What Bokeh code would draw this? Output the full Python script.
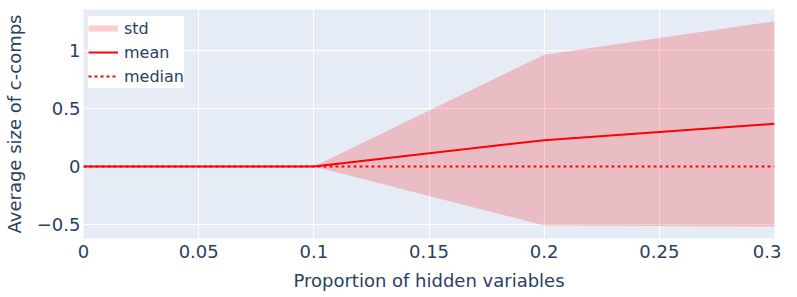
from bokeh.plotting import figure
from bokeh.models import FixedTicker, Legend, LegendItem, Range1d
from bokeh.embed import file_html
from bokeh.resources import INLINE

# ---- data ----
x_vals = [0.0, 0.1, 0.2, 0.3]
mean_vals = [0.0, 0.0, 0.227, 0.368]
std_vals = [0.0, 0.0, 0.736, 0.885]
median_vals = [0.0, 0.0, 0.0, 0.0]

x_ticks = [0, 0.05, 0.1, 0.15, 0.2, 0.25, 0.3]
x_tick_labels = ["0", "0.05", "0.1", "0.15", "0.2", "0.25", "0.3"]
y_ticks = [-0.5, 0, 0.5, 1]
y_tick_labels = ["\u22120.5", "0", "0.5", "1"]

upper_vals = [m + s for m, s in zip(mean_vals, std_vals)]
lower_vals = [m - s for m, s in zip(mean_vals, std_vals)]

FONT = "DejaVu Sans"
TXT = "#2a3f5f"

p = figure(width=781, height=297, output_backend="svg",
           toolbar_location=None,
           x_range=Range1d(0, 0.3), y_range=Range1d(-0.6207, 1.3534),
           min_border_left=83, min_border_right=7, min_border_top=9,
           min_border_bottom=59)
p.background_fill_color = "#E5ECF6"
p.border_fill_color = "white"
p.outline_line_color = None

band = p.varea(x=x_vals, y1=lower_vals, y2=upper_vals,
               fill_color="red", fill_alpha=0.2)
std_proxy = p.line(x=[float("nan")], y=[float("nan")], line_color="red",
                   line_alpha=0.2, line_width=6)
mean_r = p.line(x=x_vals, y=mean_vals, line_color="red", line_width=2)
median_r = p.line(x=x_vals, y=median_vals, line_color="red", line_width=2,
                  line_dash="3 3")

for ax in (p.xaxis[0], p.yaxis[0]):
    ax.axis_line_color = None
    ax.major_tick_line_color = None
    ax.minor_tick_line_color = None
    ax.major_tick_out = 0
    ax.major_tick_in = 0
    ax.major_label_text_font = FONT
    ax.major_label_text_font_size = "18px"
    ax.major_label_text_color = TXT
    ax.axis_label_text_font = FONT
    ax.axis_label_text_font_size = "18px"
    ax.axis_label_text_color = TXT
    ax.axis_label_text_font_style = "normal"

p.xaxis.ticker = FixedTicker(ticks=x_ticks)
p.xaxis.major_label_overrides = {t: l for t, l in zip(x_ticks, x_tick_labels)}
p.yaxis.ticker = FixedTicker(ticks=y_ticks)
p.yaxis.major_label_overrides = {t: l for t, l in zip(y_ticks, y_tick_labels)}
p.xaxis.axis_label = "Proportion of hidden variables"
p.yaxis.axis_label = "Average size of c-comps"
p.xaxis.major_label_standoff = 6
p.xaxis.axis_label_standoff = 9
p.yaxis.major_label_standoff = 3
p.yaxis.axis_label_standoff = 9

p.xgrid.grid_line_color = "white"
p.ygrid.grid_line_color = "white"
p.xgrid.grid_line_width = 1
p.ygrid.grid_line_width = 1

legend = Legend(items=[
    LegendItem(label="std", renderers=[std_proxy]),
    LegendItem(label="mean", renderers=[mean_r]),
    LegendItem(label="median", renderers=[median_r]),
], location=(5, 150))
legend.background_fill_color = "white"
legend.background_fill_alpha = 1
legend.border_line_color = None
legend.label_text_font = FONT
legend.label_text_font_size = "16px"
legend.label_text_color = TXT
legend.glyph_width = 30
legend.glyph_height = 24
legend.label_height = 24
legend.label_standoff = 6
legend.spacing = 0
legend.padding = 6
legend.margin = 0
p.add_layout(legend, "center")

open("out.html", "w").write(file_html(p, INLINE))
